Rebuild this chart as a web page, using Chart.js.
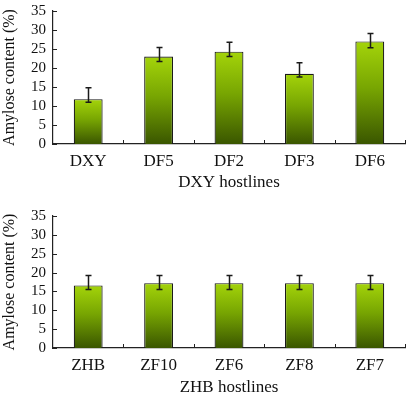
<!DOCTYPE html>
<html><head><meta charset="utf-8">
<script src="https://cdn.jsdelivr.net/npm/chart.js@4.4.1/dist/chart.umd.min.js"></script>
<style>
html,body{margin:0;padding:0;background:#fff;overflow:hidden;}
#wrap{position:relative;width:410px;height:398px;overflow:hidden;}
canvas{position:absolute;left:0;}
#c1{top:-5px;}
#c2{top:200px;}
</style></head><body>
<div id="wrap">
<canvas id="c1" width="410" height="198"></canvas>
<canvas id="c2" width="410" height="198"></canvas>
</div>
<script>
const categoriesDXY = ["DXY","DF5","DF2","DF3","DF6"];
const valuesDXY = [11.8, 23.0, 24.3, 18.5, 27.0];
const errUpDXY = [14.8, 25.4, 26.8, 21.4, 29.1];
const errDownDXY = [11.0, 21.7, 23.0, 17.6, 25.3];

const categoriesZHB = ["ZHB","ZF10","ZF6","ZF8","ZF7"];
const valuesZHB = [16.6, 17.2, 17.2, 17.2, 17.2];
const errUpZHB = [19.2, 19.2, 19.2, 19.2, 19.2];
const errDownZHB = [15.5, 15.5, 15.5, 15.5, 15.5];

const yTicks = [0,5,10,15,20,25,30,35];

const FONT = "'Liberation Serif','Times New Roman',serif";

const errPlugin = {
  id:'err',
  afterDatasetsDraw(chart, args, opts){
    const ctx = chart.ctx;
    const y = chart.scales.y;
    const meta = chart.getDatasetMeta(0);
    ctx.save();
    ctx.strokeStyle = '#1a1a1a';
    ctx.lineWidth = 1.5;
    meta.data.forEach((bar,i)=>{
      const px = Math.round(bar.x)+0.5;
      const t = y.getPixelForValue(opts.up[i]);
      const b = y.getPixelForValue(opts.down[i]);
      ctx.beginPath();
      ctx.moveTo(px,t); ctx.lineTo(px,b);
      ctx.moveTo(px-3,t); ctx.lineTo(px+3,t);
      ctx.moveTo(px-3,b); ctx.lineTo(px+3,b);
      ctx.stroke();
    });
    ctx.strokeStyle = '#222';
    ctx.lineWidth = 1;
    const area = chart.chartArea;
    yTicks.forEach(v=>{
      const py = Math.round(y.getPixelForValue(v))+0.5;
      ctx.beginPath(); ctx.moveTo(area.left, py); ctx.lineTo(area.left+4, py); ctx.stroke();
    });
    const n = chart.data.labels.length;
    for(let i=1;i<=n;i++){
      const px = Math.round(area.left + (area.right-area.left)*i/n)+0.5;
      ctx.beginPath(); ctx.moveTo(px, area.bottom); ctx.lineTo(px, area.bottom-4); ctx.stroke();
    }
    ctx.restore();
  }
};

function barFill(c){
  const ch = c.chart, y = ch.scales.y;
  if(!ch.chartArea || !y || c.raw === undefined) return '#7aa800';
  const top = y.getPixelForValue(c.raw), bot = y.getPixelForValue(0);
  if(!isFinite(top) || !isFinite(bot) || bot<=top) return '#7aa800';
  const g = ch.ctx.createLinearGradient(0, top, 0, bot);
  g.addColorStop(0, '#a4d40a');
  g.addColorStop(0.45, '#78a602');
  g.addColorStop(1, '#3a5600');
  return g;
}

function makeChart(id, labels, values, up, down, title, topPad, xH){
  new Chart(document.getElementById(id), {
    type:'bar',
    data:{labels, datasets:[{
      data: values,
      backgroundColor: barFill,
      borderColor:'#1a1a1a', borderWidth:1.2,
      barPercentage:0.41, categoryPercentage:1
    }]},
    options:{
      responsive:false, animation:false,
      layout:{padding:{left:0,right:5,top:topPad,bottom:0}},
      plugins:{legend:{display:false}, tooltip:{enabled:false}, err:{up, down}},
      scales:{
        x:{
          grid:{display:false, drawTicks:false},
          border:{display:true, color:'#222', width:1.2},
          ticks:{font:{family:FONT,size:17}, color:'#111', padding:7},
          title:{display:true, text:title, font:{family:FONT,size:17}, color:'#111', padding:{top:0,bottom:0}},
          afterFit(s){ s.height = xH; }
        },
        y:{
          min:0, max:35,
          afterBuildTicks(s){ s.ticks = yTicks.map(v=>({value:v})); },
          grid:{display:false, drawTicks:false},
          border:{display:true, color:'#222', width:1.2},
          ticks:{font:{family:FONT,size:15}, color:'#111', padding:7, autoSkip:false},
          title:{display:true, text:'Amylose content (%)', font:{family:FONT,size:16}, color:'#111', padding:{top:0,bottom:2}},
          afterFit(s){ s.width = 53; }
        }
      }
    },
    plugins:[errPlugin]
  });
}

makeChart('c1', categoriesDXY, valuesDXY, errUpDXY, errDownDXY, 'DXY hostlines', 5, 49);
makeChart('c2', categoriesZHB, valuesZHB, errUpZHB, errDownZHB, 'ZHB hostlines', 10, 50);
</script>
</body></html>
